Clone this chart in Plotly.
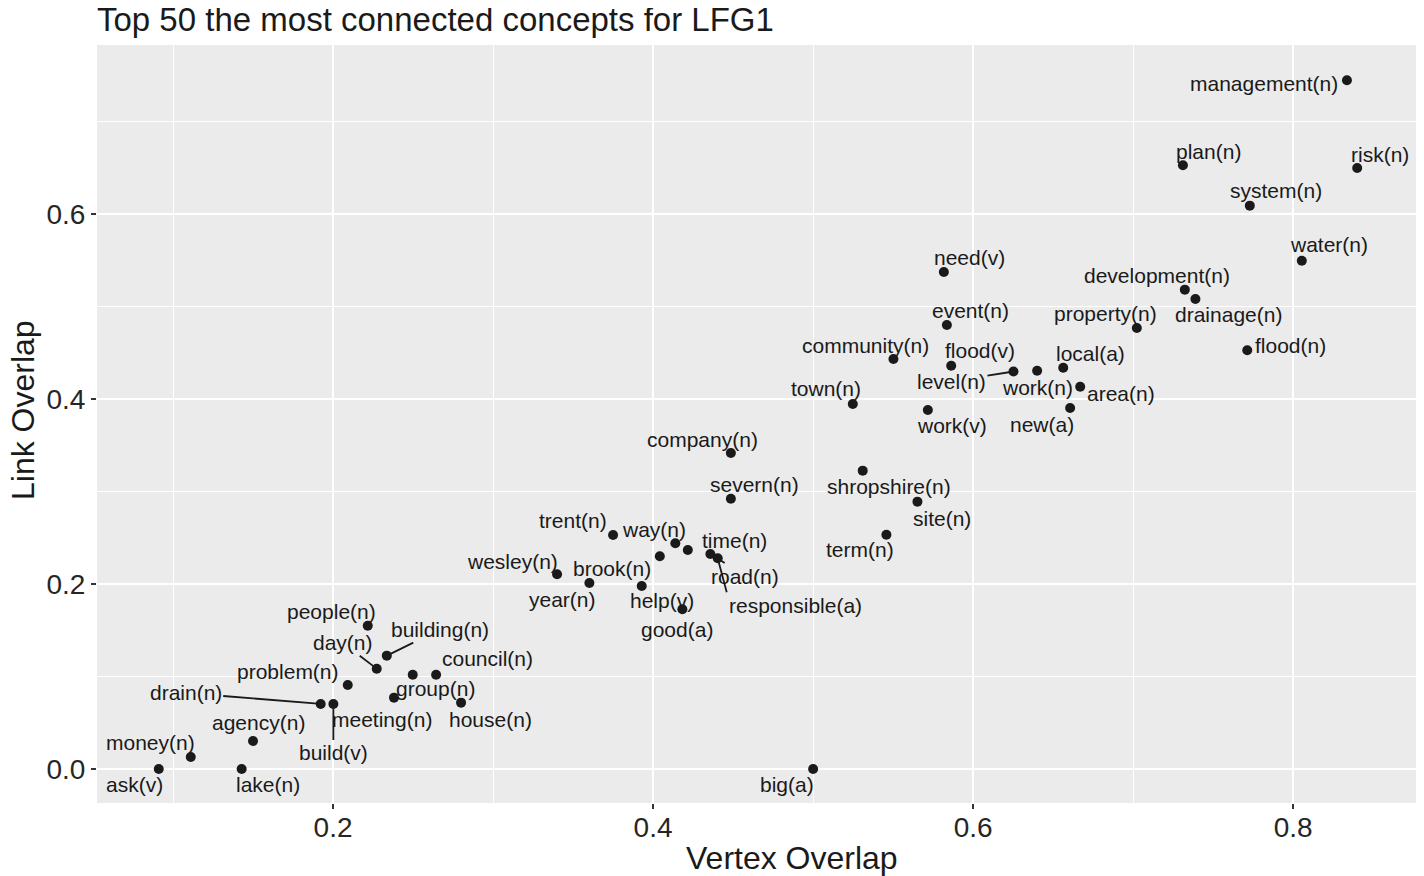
import plotly.graph_objects as go

# ---- data ----
words = ["management(n)", "plan(n)", "risk(n)", "system(n)", "water(n)", "development(n)",
         "drainage(n)", "property(n)", "flood(n)", "need(v)", "event(n)", "community(n)",
         "flood(v)", "level(n)", "work(n)", "local(a)", "area(n)", "town(n)", "work(v)",
         "new(a)", "company(n)", "severn(n)", "shropshire(n)", "site(n)", "term(n)",
         "trent(n)", "way(n)", "time(n)", "brook(n)", "wesley(n)", "road(n)",
         "responsible(a)", "year(n)", "help(v)", "good(a)", "people(n)", "building(n)",
         "day(n)", "council(n)", "problem(n)", "group(n)", "drain(n)", "meeting(n)",
         "house(n)", "agency(n)", "build(v)", "money(n)", "ask(v)", "lake(n)", "big(a)"]

vertex_overlap = [0.8336, 0.7311, 0.8400, 0.7729, 0.8054, 0.7323,
                  0.7389, 0.7023, 0.7713, 0.5817, 0.5836, 0.5502,
                  0.5863, 0.6252, 0.6400, 0.6563, 0.6669, 0.5248, 0.5717,
                  0.6606, 0.4486, 0.4486, 0.5310, 0.5652, 0.5458,
                  0.3750, 0.4139, 0.4217, 0.4042, 0.3400, 0.4358,
                  0.4404, 0.3602, 0.3929, 0.4183, 0.2217, 0.2336,
                  0.2273, 0.2644, 0.2092, 0.2498, 0.1923, 0.2381,
                  0.2800, 0.1500, 0.2002, 0.1111, 0.0911, 0.1429, 0.5000]

link_overlap = [0.7445, 0.6527, 0.6497, 0.6090, 0.5495, 0.5182,
                0.5081, 0.4768, 0.4526, 0.5373, 0.4800, 0.4432,
                0.4360, 0.4297, 0.4306, 0.4338, 0.4133, 0.3946, 0.3881,
                0.3903, 0.3416, 0.2922, 0.3225, 0.2890, 0.2533,
                0.2530, 0.2440, 0.2368, 0.2299, 0.2105, 0.2324,
                0.2278, 0.2011, 0.1978, 0.1726, 0.1549, 0.1225,
                0.1084, 0.1019, 0.0908, 0.1019, 0.0703, 0.0771,
                0.0717, 0.0303, 0.0703, 0.0130, 0.0000, 0.0000, 0.0000]

x_ticks = [0.2, 0.4, 0.6, 0.8]
y_ticks = [0.0, 0.2, 0.4, 0.6]

# ---- label placement (pixel offsets of each label from its point) ----
label_dx = [-83, 26, 23, 26, 27, -28,
            33, -31, 43, 26, 24, -28,
            29, -62, 0, 27, 41, -27, 24,
            -28, -28, 24, 26, 25, -26,
            -40, -21, 47, -48, -45, 35,
            9, -27, 20, -5, -36, 53,
            -34, 51, -60, 23, -135, -12,
            29, 5, 0, -40, -24, 26, -26]
label_dy = [3, -14, -14, -15, -16, -14,
            16, -14, -5, -14, -14, -14,
            -15, 10, 17, -14, 7, -15, 16,
            17, -14, -14, 16, 17, 15,
            -14, -14, -9, 12, -13, 22,
            34, 17, 14, 20, -14, -26,
            -26, -16, -13, 14, -11, 22,
            17, -18, 49, -14, 16, 16, 16]
# labels whose offset refers to the label box's top-left corner
corner_anchored = {"responsible(a)"}
with_segment = {"level(n)", "road(n)", "responsible(a)", "building(n)", "day(n)",
                "drain(n)", "build(v)"}

FONT = "Liberation Sans, Arial, Helvetica, sans-serif"
INK = "#1a1a1a"

# the page body adds an 8px margin; the figure is sized to compensate
W, H = 1416, 868

fig = go.Figure()
fig.add_trace(go.Scatter(
    x=vertex_overlap, y=link_overlap, mode="markers",
    marker=dict(size=10, color=INK), hoverinfo="text", text=words, showlegend=False))

annotations = []
for w, xv, yv, dx, dy in zip(words, vertex_overlap, link_overlap, label_dx, label_dy):
    seg = w in with_segment
    corner = w in corner_anchored
    annotations.append(dict(
        x=xv, y=yv, xref="x", yref="y", text=w, showarrow=True,
        ax=dx, ay=dy, arrowhead=0, arrowwidth=1.8 if seg else 0.1,
        arrowcolor=INK if seg else "rgba(0,0,0,0)", standoff=3,
        xanchor="left" if corner else "center",
        yanchor="top" if corner else "middle",
        font=dict(family=FONT, size=21, color=INK)))

# axis titles
annotations.append(dict(text="Vertex Overlap", xref="paper", yref="paper",
                        x=0.526, y=0, yshift=-55, showarrow=False,
                        xanchor="center", yanchor="middle",
                        font=dict(family=FONT, size=32, color=INK)))
annotations.append(dict(text="Link Overlap", xref="paper", yref="paper",
                        x=0, xshift=-74, y=0.5185, showarrow=False, textangle=-90,
                        xanchor="center", yanchor="middle",
                        font=dict(family=FONT, size=32, color=INK)))

fig.update_layout(
    width=W, height=H, autosize=False,
    margin=dict(l=89, r=6, t=37, b=73),
    paper_bgcolor="white", plot_bgcolor="#EBEBEB",
    title=dict(text="Top 50 the most connected concepts for LFG1",
               x=89 / W, xref="container", xanchor="left",
               y=1 - 11 / H, yref="container", yanchor="middle",
               font=dict(family=FONT, size=33, color=INK)),
    annotations=annotations,
    xaxis=dict(range=[0.0525, 0.878], tickvals=x_ticks, tickformat=".1f",
               showgrid=True, gridcolor="white", gridwidth=2.2, zeroline=False,
               ticks="outside", ticklen=5, tickwidth=2, tickcolor="#333333",
               ticklabelstandoff=-6,
               tickfont=dict(family=FONT, size=28, color="#262626"),
               minor=dict(tickvals=[0.1, 0.3, 0.5, 0.7], showgrid=True,
                          gridcolor="white", gridwidth=1.2, ticks=""),
               showline=False),
    yaxis=dict(range=[-0.0368, 0.7827], tickvals=y_ticks, tickformat=".1f",
               showgrid=True, gridcolor="white", gridwidth=2.2, zeroline=False,
               ticks="outside", ticklen=5, tickwidth=2, tickcolor="#333333",
               tickfont=dict(family=FONT, size=28, color="#262626"),
               minor=dict(tickvals=[0.1, 0.3, 0.5, 0.7], showgrid=True,
                          gridcolor="white", gridwidth=1.2, ticks=""),
               showline=False),
)

fig.write_html("out.html")
